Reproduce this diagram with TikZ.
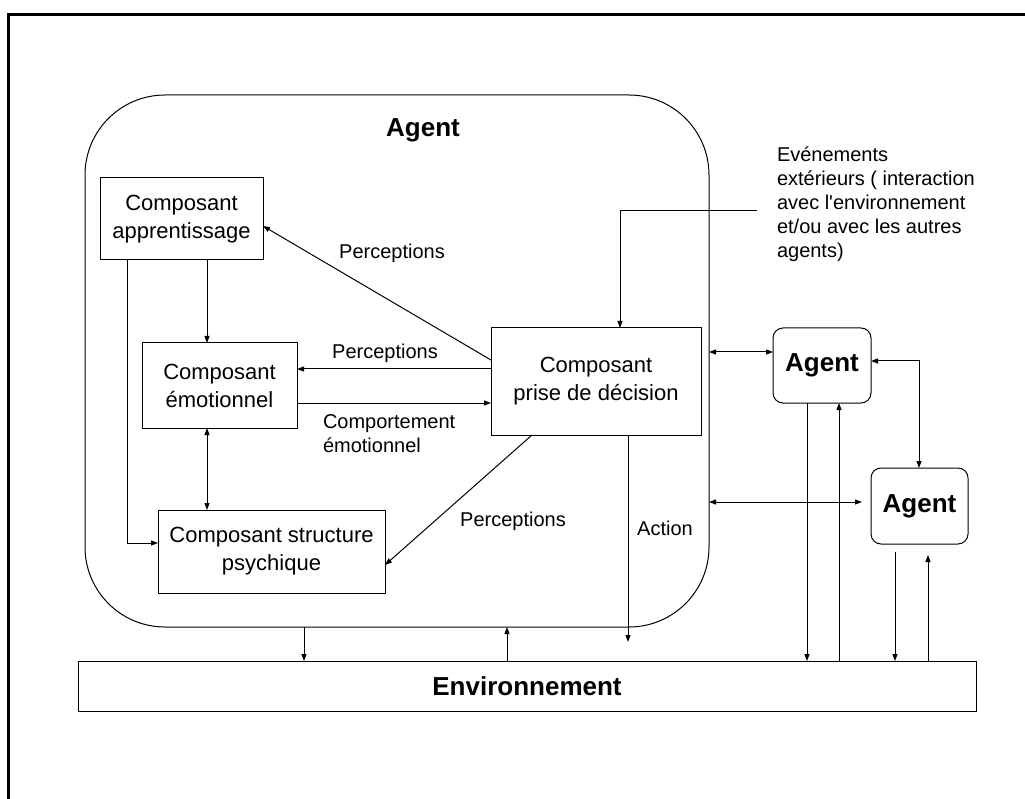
\documentclass[tikz,border=0pt]{standalone}
\usepackage{fontspec}
\setmainfont{Liberation Sans}
\usetikzlibrary{arrows.meta}
\begin{document}
\begin{tikzpicture}[x=1pt,y=-1pt,
  every node/.style={inner sep=0pt,outer sep=0pt},
  compbox/.style={draw,line width=1pt,align=center,font=\fontsize{22}{28}\selectfont},
  agentbox/.style={draw,line width=1pt,rounded corners=10pt,font=\fontsize{26}{30}\selectfont\bfseries},
  boldlbl/.style={font=\fontsize{26}{30}\selectfont\bfseries},
  lbl/.style={align=left,font=\fontsize{20}{24}\selectfont},
  tip/.tip={Triangle[length=7pt,width=5pt]},
  conn/.style={line width=1pt,-tip},
  both/.style={line width=1pt,tip-tip}]
\useasboundingbox (0,0) rectangle (1025,799);
% page frame
\draw[line width=2.2pt] (8.5,799) -- (8.5,14.5) -- (1025,14.5);

% the agent and its components
\node[draw,line width=1pt,rounded corners=80pt,minimum width=624pt,minimum height=532pt] (agent) at (397,361) {};
\node[boldlbl] (agentlbl) at (423,130) {Agent};
\node[compbox,minimum width=163pt,minimum height=82pt] (app) at (181.5,219) {Composant\\apprentissage};
\node[compbox,minimum width=155pt,minimum height=85pt] (emo) at (219.5,385.5) {Composant\\émotionnel};
\node[compbox,minimum width=227pt,minimum height=83pt] (str) at (271.5,551.5) {Composant structure\\psychique};
\node[compbox,minimum width=210pt,minimum height=107pt] (dec) at (596,381.5) {Composant\\prise de décision};

% other agents and the environment
\node[agentbox,minimum width=98pt,minimum height=75pt] (ag1) at (822,365.5) {Agent};
\node[agentbox,minimum width=97pt,minimum height=76pt] (ag2) at (919.5,506) {Agent};
\node[draw,line width=1pt,boldlbl,minimum width=898pt,minimum height=50pt] (env) at (527,686) {Environnement};

% labels
\node[lbl] (p1) at (392,253) {Perceptions};
\node[lbl] (p2) at (385,353) {Perceptions};
\node[lbl,anchor=west] (ce) at (323,434) {Comportement\\émotionnel};
\node[lbl] (p3) at (513,521) {Perceptions};
\node[lbl] (act) at (665,528) {Action};
\node[lbl,anchor=west] (ev) at (777,204) {Evénements\\extérieurs ( interaction\\avec l\textquotesingle environnement\\et/ou avec les autres\\agents)};

\coordinate (evin) at (757,211);
\coordinate (acttip) at (628,642);

% internal connectors
\draw[conn] (app.south -| 207,0) -- (emo.north -| 207,0);
\draw[conn] (app.south -| 127,0) |- (str.west |- 0,543);
\draw[conn] (dec.west |- 0,369) -- (emo.east |- 0,369);
\draw[conn] (emo.east |- 0,403) -- (dec.west |- 0,403);
\draw[both] (emo.south -| 207,0) -- (str.north -| 207,0);
\draw[conn] (dec.west |- 0,360) -- (app.east |- 0,226);
\draw[conn] (dec.south -| 532,0) -- (str.east |- 0,565);
\draw[conn] (dec.south -| 628,0) -- (acttip);
\draw[conn] (evin) -| (dec.north -| 620,0);

% agent <-> agents
\draw[both] (agent.east |- 0,352) -- (ag1.west |- 0,352);
\draw[both,shorten >=9pt] (agent.east |- 0,502) -- (ag2.west |- 0,502);
\draw[both] (ag1.east |- 0,361) -| (ag2.north -| 919,0);

% agents <-> environment
\draw[conn] (agent.south -| 304,0) -- (env.north -| 304,0);
\draw[conn] (env.north -| 507,0) -- (agent.south -| 507,0);
\draw[conn] (ag1.south -| 807,0) -- (env.north -| 807,0);
\draw[conn] (env.north -| 839,0) -- (ag1.south -| 839,0);
\draw[conn,shorten <=8pt] (ag2.south -| 895,0) -- (env.north -| 895,0);
\draw[conn,shorten >=11pt] (env.north -| 928,0) -- (ag2.south -| 928,0);
\end{tikzpicture}
\end{document}
